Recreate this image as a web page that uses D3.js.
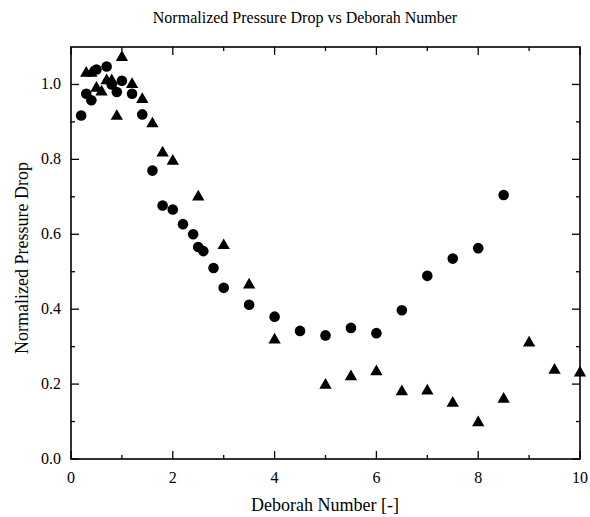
<!DOCTYPE html>
<html><head><meta charset="utf-8">
<script src="https://cdn.jsdelivr.net/npm/d3@7/dist/d3.min.js"></script>
<style>body{margin:0;background:#fff} text{font-family:"Liberation Serif","Times New Roman",Times,serif;}</style>
</head><body>
<svg id="c" width="590" height="517"></svg>
<script>
const title = "Normalized Pressure Drop vs Deborah Number";
const xLabel = "Deborah Number [-]";
const yLabel = "Normalized Pressure Drop";
const circleX = [0.2,0.3,0.4,0.5,0.7,0.8,0.9,1.0,1.2,1.4,1.6,1.8,2.0,2.2,2.4,2.5,2.6,2.8,3.0,3.5,4.0,4.5,5.0,5.5,6.0,6.5,7.0,7.5,8.0,8.5];
const circleY = [0.917,0.975,0.958,1.04,1.048,1.0,0.98,1.01,0.975,0.92,0.77,0.677,0.666,0.627,0.60,0.566,0.555,0.51,0.457,0.412,0.38,0.342,0.33,0.35,0.336,0.397,0.489,0.535,0.563,0.705];
const triX = [0.3,0.4,0.5,0.6,0.7,0.8,0.9,1.0,1.2,1.4,1.6,1.8,2.0,2.5,3.0,3.5,4.0,5.0,5.5,6.0,6.5,7.0,7.5,8.0,8.5,9.0,9.5,10];
const triY = [1.03,1.03,0.99,0.98,1.01,1.01,0.915,1.072,1.0,0.96,0.895,0.817,0.795,0.70,0.57,0.465,0.318,0.197,0.22,0.233,0.18,0.182,0.149,0.097,0.16,0.31,0.237,0.23];
const xMajor = [0,2,4,6,8,10];
const xMinor = [1,3,5,7,9];
const yMajor = [0,0.2,0.4,0.6,0.8,1.0];
const yMinor = [0.1,0.3,0.5,0.7,0.9];

const L=71,R=580,T=47,B=459;
const svg=d3.select("#c");
const x=d3.scaleLinear().domain([0,10]).range([L,R]);
const y=d3.scaleLinear().domain([0,1.1]).range([B,T]);

// ticks
const g=svg.append("g").attr("stroke","#000").attr("stroke-width",1.3);
xMajor.forEach(v=>{g.append("line").attr("x1",x(v)).attr("x2",x(v)).attr("y1",B).attr("y2",B-8);
  g.append("line").attr("x1",x(v)).attr("x2",x(v)).attr("y1",T).attr("y2",T+8);});
xMinor.forEach(v=>{g.append("line").attr("x1",x(v)).attr("x2",x(v)).attr("y1",B).attr("y2",B-4);
  g.append("line").attr("x1",x(v)).attr("x2",x(v)).attr("y1",T).attr("y2",T+4);});
yMajor.forEach(v=>{g.append("line").attr("y1",y(v)).attr("y2",y(v)).attr("x1",L).attr("x2",L+8);
  g.append("line").attr("y1",y(v)).attr("y2",y(v)).attr("x1",R).attr("x2",R-8);});
yMinor.forEach(v=>{g.append("line").attr("y1",y(v)).attr("y2",y(v)).attr("x1",L).attr("x2",L+4);
  g.append("line").attr("y1",y(v)).attr("y2",y(v)).attr("x1",R).attr("x2",R-4);});
svg.append("rect").attr("x",L).attr("y",T).attr("width",R-L).attr("height",B-T)
  .attr("fill","none").attr("stroke","#000").attr("stroke-width",1.6);

// tick labels
svg.append("g").selectAll("text").data(xMajor).join("text")
  .attr("x",d=>x(d)).attr("y",B+24).attr("text-anchor","middle")
  .attr("font-size",16).text(d=>d);
svg.append("g").selectAll("text").data(yMajor).join("text")
  .attr("x",L-10).attr("y",d=>y(d)+5).attr("text-anchor","end")
  .attr("font-size",16).text(d=>d.toFixed(1));

// labels
svg.append("text").attr("x",305).attr("y",23).attr("text-anchor","middle")
  .attr("font-size",16).text(title);
svg.append("text").attr("x",325).attr("y",511).attr("text-anchor","middle")
  .attr("font-size",18).text(xLabel);
svg.append("text").attr("transform","translate(28,258) rotate(-90)").attr("text-anchor","middle")
  .attr("font-size",18).text(yLabel);

// markers
const circ=circleX.map((v,i)=>({x:v,y:circleY[i]}));
const tri=triX.map((v,i)=>({x:v,y:triY[i]}));
svg.append("g").selectAll("circle").data(circ).join("circle")
  .attr("cx",d=>x(d.x)).attr("cy",d=>y(d.y)).attr("r",5.3).attr("fill","#000");
const triPath=d3.symbol().type(d3.symbolTriangle).size(66);
svg.append("g").selectAll("path").data(tri).join("path")
  .attr("d",triPath).attr("transform",d=>`translate(${x(d.x)},${y(d.y)})`).attr("fill","#000");
</script>
</body></html>
